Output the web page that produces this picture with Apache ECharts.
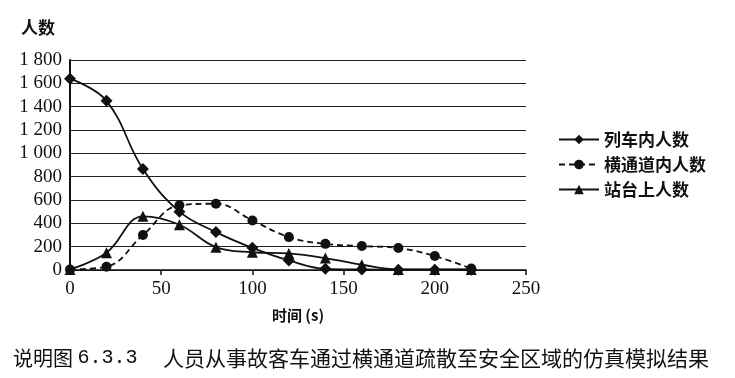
<!DOCTYPE html>
<html>
<head>
<meta charset="utf-8">
<script src="https://cdn.jsdelivr.net/npm/echarts@6/dist/echarts.min.js"></script>
<style>
html,body{margin:0;padding:0;background:#fff;}
#chart{width:735px;height:378px;}
</style>
</head>
<body>
<div id="chart"></div>
<script>
// 时间(s)
const times = [0, 20, 40, 60, 80, 100, 120, 140, 160, 180, 200, 220];
// 各区域人数
const trainCount   = [1640, 1450, 865, 500, 325, 190, 82, 10, 5, 3, 3, 3];
const passageCount = [5, 28, 300, 555, 568, 425, 282, 224, 205, 188, 120, 12];
const platformCount = [5, 148, 460, 388, 196, 152, 142, 102, 45, 5, 5, 5];
const seriesNames = ['列车内人数', '横通道内人数', '站台上人数'];

const serifFont = '"Liberation Serif","DejaVu Serif",serif';
const cjkFont = '"Noto Sans CJK SC",sans-serif';

const pairs = (ys) => times.map((t, i) => [t, ys[i]]);
const fmtNum = (v) => String(v).replace(/\B(?=(\d{3})+(?!\d))/g, ' ');

const mkSeries = (name, ys, symbol, size, dashed) => ({
    name: name,
    type: 'line',
    data: pairs(ys),
    smooth: 0.4,
    symbol: symbol,
    symbolSize: size,
    itemStyle: {color: '#111'},
    lineStyle: {color: '#111', width: 1.8, type: dashed ? [6, 4] : 'solid'},
});

const chart = echarts.init(document.getElementById('chart'));
chart.setOption({
    animation: false,
    backgroundColor: '#fff',
    grid: {left: 70, right: 209, top: 60, bottom: 108},
    title: [
        {text: '说明图 {m|6.3.3}', left: 8, top: 343,
         textStyle: {fontFamily: cjkFont, fontSize: 20, fontWeight: 'normal', color: '#111',
             rich: {m: {fontFamily: '"Liberation Mono","DejaVu Sans Mono",monospace', fontSize: 20, color: '#111'}}}},
        {text: '人员从事故客车通过横通道疏散至安全区域的仿真模拟结果', left: 158, top: 343,
         textStyle: {fontFamily: cjkFont, fontSize: 21, fontWeight: 'normal', color: '#111'}},
    ],
    legend: {
        orient: 'vertical',
        left: 553,
        top: 126,
        itemWidth: 40,
        itemHeight: 12,
        itemGap: 8,
        data: seriesNames,
        textStyle: {fontFamily: cjkFont, fontSize: 17, color: '#111', fontWeight: 'bold'},
    },
    xAxis: {
        type: 'value',
        min: 0, max: 250, interval: 50,
        name: '时间 (s)',
        nameLocation: 'middle',
        nameGap: 38,
        nameTextStyle: {fontFamily: cjkFont, fontSize: 15, fontWeight: 'bold', color: '#111'},
        axisLine: {lineStyle: {color: '#111', width: 1.5}},
        axisTick: {show: true, length: 5, lineStyle: {color: '#111', width: 1.5}},
        axisLabel: {fontFamily: serifFont, fontSize: 19, color: '#111', margin: 10},
        splitLine: {show: false},
    },
    yAxis: {
        type: 'value',
        min: 0, max: 1800, interval: 200,
        name: '人数',
        nameLocation: 'end',
        nameGap: 24,
        nameTextStyle: {fontFamily: cjkFont, fontSize: 17, fontWeight: 'bold', color: '#111', align: 'right', padding: [0, 15, 0, 0]},
        axisLine: {show: true, lineStyle: {color: '#111', width: 2}},
        axisTick: {show: false},
        axisLabel: {fontFamily: serifFont, fontSize: 19, color: '#111', margin: 8, formatter: fmtNum},
        splitLine: {lineStyle: {color: '#222', width: 1}},
    },
    series: [
        mkSeries(seriesNames[0], trainCount, 'diamond', 12, false),
        mkSeries(seriesNames[1], passageCount, 'circle', 10, true),
        mkSeries(seriesNames[2], platformCount, 'triangle', 11, false),
    ],
});
</script>
</body>
</html>
